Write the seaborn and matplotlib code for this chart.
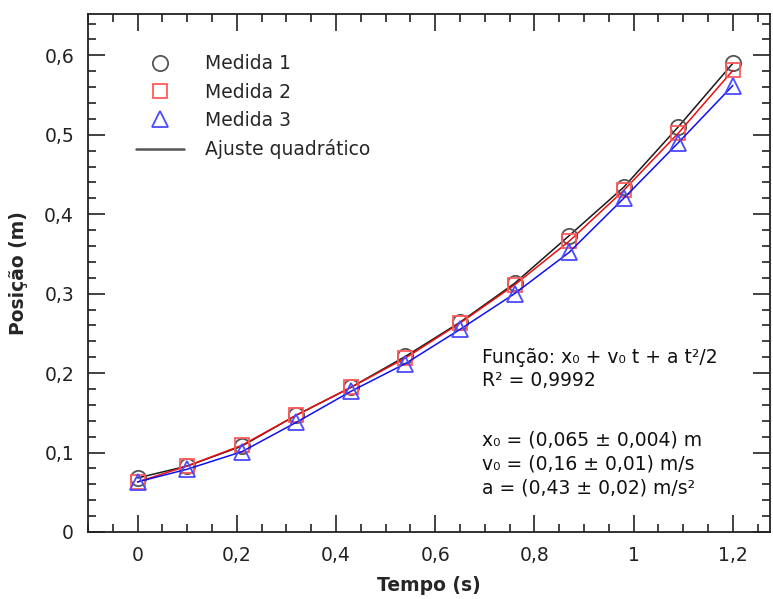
import numpy as np
import pandas as pd
import matplotlib
matplotlib.use("Agg")
import matplotlib.pyplot as plt
from matplotlib.lines import Line2D
from matplotlib.ticker import MultipleLocator, FuncFormatter
import seaborn as sns

# ── Data ──
tempo = [0, 0.1, 0.21, 0.32, 0.43, 0.54, 0.65, 0.76, 0.87, 0.98, 1.09, 1.2]
medida1 = [0.068, 0.083, 0.108, 0.147, 0.182, 0.221, 0.264, 0.313, 0.373, 0.434, 0.510, 0.590]
medida2 = [0.063, 0.083, 0.109, 0.147, 0.182, 0.219, 0.263, 0.311, 0.366, 0.430, 0.502, 0.581]
medida3 = [0.063, 0.079, 0.101, 0.138, 0.177, 0.212, 0.255, 0.300, 0.352, 0.420, 0.490, 0.562]

series_names = ["Medida 1", "Medida 2", "Medida 3"]
fit_label = "Ajuste quadrático"
info_fit = ("Função: x₀ + v₀ t + a t²/2\n"
            "R² = 0,9992")
info_params = ("x₀ = (0,065 ± 0,004) m\n"
               "v₀ = (0,16 ± 0,01) m/s\n"
               "a = (0,43 ± 0,02) m/s²")

df = pd.DataFrame({"t": tempo, "m1": medida1, "m2": medida2, "m3": medida3})

sns.set_style("ticks")
plt.rcParams['font.family'] = ['DejaVu Sans']

fig = plt.figure(figsize=(7.73, 5.99), dpi=100)
ax = fig.add_axes([0.1138, 0.1119, 0.8824, 0.8647])

styles = [
    ("m1", "o", "#1a1a1a", "#555555"),
    ("m2", "s", "#e81010", "#ff5a5a"),
    ("m3", "^", "#1010f0", "#4a4aff"),
]
for col, mk, lc, mc in styles:
    sns.lineplot(data=df, x="t", y=col, ax=ax, color=lc, lw=1.1,
                 marker=mk, markersize=11 if mk != "s" else 10,
                 markerfacecolor="none", markeredgecolor=mc,
                 markeredgewidth=1.3)

ax.set_xlim(-0.1, 1.275)
ax.set_ylim(0, 0.652)

ax.xaxis.set_major_locator(MultipleLocator(0.2))
ax.xaxis.set_minor_locator(MultipleLocator(0.05))
ax.yaxis.set_major_locator(MultipleLocator(0.1))
ax.yaxis.set_minor_locator(MultipleLocator(0.02))

comma = FuncFormatter(lambda v, p: f"{round(v, 3):g}".replace(".", ","))
ax.xaxis.set_major_formatter(comma)
ax.yaxis.set_major_formatter(comma)

ax.tick_params(which="both", direction="in", top=True, right=True,
               width=1.2, color="#222222", labelsize=13.5, labelcolor="#222222")
ax.tick_params(which="major", length=12, pad=10)
ax.tick_params(which="minor", length=6)
for s in ax.spines.values():
    s.set_linewidth(1.3)
    s.set_color("#222222")

ax.set_xlabel("Tempo (s)", fontsize=13.5, fontweight="bold", labelpad=8)
ax.set_ylabel("Posição (m)", fontsize=13.5, fontweight="bold", labelpad=12)

handles = [
    Line2D([], [], ls="none", marker="o", markersize=11, mfc="none", mec="#555555", mew=1.3),
    Line2D([], [], ls="none", marker="s", markersize=10, mfc="none", mec="#ff5a5a", mew=1.3),
    Line2D([], [], ls="none", marker="^", markersize=11, mfc="none", mec="#4a4aff", mew=1.3),
    Line2D([], [], color="#555555", lw=1.8),
]
ax.legend(handles, series_names + [fit_label], loc="upper left",
          bbox_to_anchor=(0.045, 0.955), frameon=False, fontsize=13.5,
          handlelength=2.6, handletextpad=1.1, labelspacing=0.5)

ax.text(0.577, 0.355, info_fit, transform=ax.transAxes, fontsize=13.5,
        color="#111111", va="top", ha="left", linespacing=1.28)
ax.text(0.577, 0.195, info_params, transform=ax.transAxes, fontsize=13.5,
        color="#111111", va="top", ha="left", linespacing=1.32)

plt.savefig("out.png", dpi=100)
